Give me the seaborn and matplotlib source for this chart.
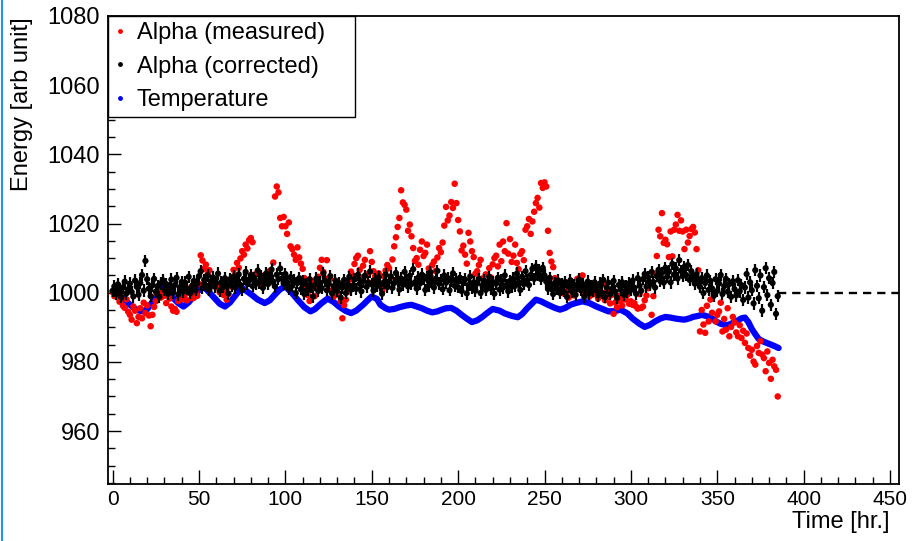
import numpy as np
import pandas as pd
import matplotlib
matplotlib.use("Agg")
import matplotlib.pyplot as plt
from matplotlib.lines import Line2D
from matplotlib.ticker import MultipleLocator
import seaborn as sns

# Alpha peak position after temperature correction, one reading per hour
alpha_corrected = [
    1000.5, 1001.8, 999.6, 1002.4, 1000.9, 998.7, 1001.5, 1003.2, 999.8, 1001.0,
    1002.6, 1000.2, 998.9, 1003.5, 1001.7, 999.4, 1002.8, 1005.1, 1000.6, 1009.2,
    1003.9, 1001.2, 999.0, 1002.1, 1004.0, 1000.3, 1001.9, 998.8, 1002.7, 1003.6,
    1000.8, 1002.5, 999.7, 1001.4, 1003.8, 1000.1, 1002.2, 1004.3, 999.5, 1001.6,
    1003.1, 1000.4, 1002.9, 1001.1, 1004.6, 999.9, 1002.0, 1003.4, 1000.7, 1002.6,
    1004.8, 1006.2, 1001.3, 1003.7, 1002.1, 1005.0, 1000.9, 1003.3, 1004.4, 1001.8,
    1002.9, 1005.5, 1000.6, 1003.0, 1001.7, 1004.2, 1002.4, 999.8, 1003.9, 1002.0,
    1004.7, 1001.5, 1003.6, 1005.3, 1002.2, 1000.8, 1004.0, 1006.0, 1002.7, 1003.5,
    1005.1, 1001.9, 1004.3, 1002.6, 1006.4, 1003.0, 1004.9, 1001.4, 1003.8, 1005.6,
    1002.5, 1004.6, 1006.7, 1003.2, 1001.8, 1005.2, 1003.9, 1007.0, 1004.1, 1002.7,
    1005.4, 1003.1, 1001.2, 1004.5, 1002.0, 1003.7, 999.9, 1002.8, 1004.2, 1001.0,
    1003.3, 999.6, 1002.5, 1000.8, 1003.9, 1001.6, 998.9, 1002.2, 1004.1, 1000.5,
    1002.9, 1001.3, 1005.6, 1003.4, 1000.7, 1002.6, 1004.8, 999.8, 1001.9, 1003.5,
    1000.6, 1002.8, 998.6, 1001.5, 1003.7, 999.9, 1002.3, 1004.6, 1000.9, 1002.0,
    1003.8, 1001.1, 1005.2, 1002.6, 1000.4, 1003.3, 1004.9, 1001.7, 1002.9, 1006.1,
    1002.4, 1000.6, 1003.8, 1001.9, 1004.5, 1002.2, 999.7, 1003.0, 1005.3, 1001.6,
    1003.2, 1004.7, 1001.4, 1002.8, 1005.7, 1003.5, 1000.9, 1004.1, 1002.3, 1006.0,
    1003.6, 1001.8, 1004.9, 1002.5, 1006.8, 1003.0, 1001.2, 1004.4, 1002.7, 1005.2,
    1003.9, 1000.8, 1004.6, 1002.1, 1005.9, 1003.3, 1001.5, 1004.0, 1006.3, 1002.6,
    1003.7, 1001.0, 1005.0, 1002.9, 1004.2, 1000.7, 1003.4, 1005.6, 1002.0, 1003.8,
    1001.6, 1004.3, 1000.5, 1002.9, 1003.8, 999.8, 1002.2, 1004.7, 1001.3, 1003.0,
    1000.6, 1002.7, 1004.0, 999.9, 1002.1, 1003.5, 1000.8, 1002.4, 1004.6, 1001.2,
    1003.1, 999.7, 1002.6, 1004.3, 1000.9, 1003.6, 1001.5, 1005.0, 1002.3, 1000.4,
    1003.4, 1001.7, 1004.1, 1002.0, 1005.5, 1003.0, 1000.8, 1004.6, 1002.5, 1006.2,
    1003.7, 1002.2, 1005.1, 1006.9, 1004.0, 1007.6, 1005.3, 1006.4, 1003.9, 1007.2,
    1005.0, 1003.2, 1001.1, 1004.3, 1002.0, 999.6, 1002.8, 1001.0, 1003.5, 999.9,
    1002.4, 1000.5, 1003.1, 998.8, 1001.7, 1003.6, 1000.2, 1002.3, 999.4, 1001.9,
    1003.8, 1000.7, 1002.5, 998.9, 1001.4, 1003.2, 999.8, 1002.0, 1000.6, 1003.0,
    1001.3, 999.2, 1002.6, 1000.1, 1003.7, 998.7, 1001.5, 1002.9, 999.6, 1001.1,
    1003.4, 1000.3, 998.5, 1002.2, 1000.9, 1003.0, 999.4, 1001.8, 1000.2, 1002.7,
    1000.8, 1003.5, 1001.4, 999.7, 1004.2, 1002.0, 1000.6, 1003.9, 1005.4, 1001.8,
    1004.5, 1002.3, 1006.0, 1003.1, 1001.5, 1004.8, 1006.6, 1003.4, 1005.7, 1002.9,
    1007.2, 1004.6, 1006.1, 1003.0, 1008.3, 1005.2, 1007.0, 1004.1, 1009.4, 1006.3,
    1004.8, 1007.5, 1005.1, 1008.0, 1003.7, 1006.2, 1004.4, 1002.6, 1005.3, 1003.1,
    1001.7, 1004.2, 999.9, 1002.8, 1005.0, 1000.8, 1003.4, 1001.2, 999.1, 1003.9,
    1000.5, 1002.7, 1005.1, 999.6, 1001.9, 1004.0, 1000.3, 1002.5, 998.8, 1003.3,
    1001.0, 999.2, 1003.6, 1000.4, 1002.2, 997.9, 1001.5, 1005.4, 998.6, 1003.0,
    1000.7, 996.9, 1006.5, 1002.0, 998.4, 1005.0, 994.8, 1001.6, 1007.1, 999.3,
    1004.2, 996.5, 1002.8, 1006.0, 993.9, 999.0,
]

# Raw alpha peak position, same hourly readings
alpha_measured = [
    1000.2, 999.0, 1001.3, 998.6, 997.4, 999.8, 996.2, 995.6, 998.1, 994.5,
    993.6, 992.2, 996.0, 994.8, 991.2, 993.0, 995.5, 992.6, 997.1, 994.1,
    996.3, 993.4, 990.3, 993.6, 995.9, 997.5, 999.4, 1001.0, 998.6, 1000.2,
    999.1, 997.0, 1000.4, 998.3, 996.0, 994.8, 995.3, 994.5, 997.6, 999.0,
    1000.6, 998.2, 999.5, 997.8, 1001.2, 999.9, 998.4, 998.5, 1000.3, 999.1,
    1002.5, 1010.8, 1009.3, 1006.9, 1008.1, 1005.4, 1006.5, 1003.2, 1002.1, 1004.0,
    1001.6, 1002.3, 1000.1, 1001.2, 999.4, 1000.5, 998.0, 999.6, 1001.8, 1003.5,
    1006.6, 1005.0, 1008.6, 1007.2, 1009.9, 1012.0, 1011.0, 1013.9, 1012.8, 1015.2,
    1015.8, 1014.6, 1005.2, 1003.4, 1006.0, 1002.8, 1004.5, 1001.9, 1005.1, 1003.6,
    1004.8, 1006.3, 1003.0, 1008.7, 1027.8, 1030.7, 1029.0, 1021.6, 1019.2, 1021.9,
    1019.2, 1017.0, 1020.3, 1013.4, 1012.6, 1011.0, 1009.5, 1013.1, 1010.2, 1008.4,
    1006.9, 1004.2, 1001.5, 999.3, 997.6, 1000.9, 1003.4, 999.0, 1002.1, 1004.6,
    1007.2, 1009.5, 1006.0, 1004.1, 1009.4, 1002.5, 1004.0, 1000.6, 998.9, 1001.2,
    999.6, 1001.8, 997.5, 992.6, 996.4, 998.0, 1000.2, 1003.7, 1006.1, 1005.0,
    1008.3, 1010.0, 1010.7, 1006.6, 1004.4, 1007.8, 1009.5, 1005.3, 1003.0, 1012.0,
    1008.9, 1006.2, 1004.7, 1003.1, 1005.6, 1002.0, 1000.5, 1004.8, 1006.4, 1008.0,
    1007.1, 1004.5, 1009.6, 1013.4, 1016.0, 1019.0, 1021.6, 1029.6, 1026.1, 1025.4,
    1024.0, 1017.9, 1019.7, 1016.3, 1012.9, 1009.2, 1010.0, 1008.1, 1012.4, 1014.8,
    1010.6, 1011.5, 1013.9, 1007.0, 1004.8, 1008.0, 1009.0, 1006.3, 1010.2, 1012.9,
    1011.7, 1014.5, 1019.4, 1024.8, 1020.9, 1022.3, 1026.2, 1024.5, 1031.5, 1025.9,
    1021.0, 1017.7, 1012.2, 1013.6, 1011.0, 1008.4, 1017.3, 1014.8, 1012.0, 1010.3,
    1005.5, 1006.2, 1008.0, 1009.5, 1004.1, 1002.6, 1005.3, 1003.0, 1007.1, 1004.4,
    1008.2, 1010.0, 1010.7, 1007.6, 1013.9, 1009.1, 1014.8, 1012.0, 1020.1, 1011.3,
    1015.5, 1008.9, 1010.7, 1013.9, 1008.6, 1006.8, 1011.2, 1012.0, 1009.4, 1018.2,
    1019.2, 1021.3, 1017.0, 1020.6, 1023.4, 1025.9, 1027.4, 1024.6, 1031.7, 1030.3,
    1031.9, 1030.7, 1017.9, 1011.5, 1009.0, 1007.4, 1004.2, 1002.0, 1000.6, 1003.1,
    1001.5, 999.8, 1002.9, 1000.4, 998.6, 1002.3, 1000.9, 999.2, 1001.6, 1004.0,
    1004.2, 1001.1, 1005.0, 999.7, 1000.5, 1002.7, 998.9, 1001.3, 999.5, 1002.0,
    1000.4, 998.3, 1001.7, 999.9, 1002.5, 997.8, 1000.2, 998.6, 996.9, 999.4,
    993.9, 997.2, 995.8, 999.0, 997.5, 996.3, 998.4, 998.0, 999.4, 996.8,
    997.5, 996.5, 997.0, 996.0, 995.4, 999.6, 995.6, 996.0, 997.8, 999.2,
    1001.3, 1002.8, 993.6, 999.0, 1005.5, 1010.6, 1018.2, 1016.3, 1023.0, 1014.4,
    1015.3, 1014.0, 1010.3, 1017.7, 1010.5, 1018.2, 1019.7, 1022.5, 1017.9, 1020.9,
    1017.7, 1012.6, 1018.2, 1014.5, 1016.4, 1018.4, 1019.0, 1017.4, 1012.6, 1006.5,
    988.8, 995.0, 990.8, 988.4, 996.2, 991.7, 998.0, 994.2, 999.6, 991.7,
    993.6, 994.6, 997.1, 988.8, 992.4, 989.3, 995.5, 987.4, 990.1, 993.0,
    991.4, 988.5, 987.4, 990.6, 986.9, 989.0, 985.5, 988.2, 984.0, 981.8,
    983.5, 980.1, 979.2, 984.6, 982.6, 986.0, 982.1, 981.1, 977.3, 983.0,
    979.7, 975.1, 980.6, 978.7, 977.7, 970.0,
]

alpha_err = 1.8

# Temperature trace, expressed on the energy scale
temp_hours = [
    0, 5, 10, 14, 17, 20, 24, 28, 31, 34, 38, 41, 44, 47, 50, 52.5,
    55, 58, 62, 65, 68, 72, 75, 78, 80.5, 84, 88, 91, 94, 97, 100,
    104, 107, 111, 114.5, 117, 121, 124.5, 128, 131, 135, 138, 141, 145, 148,
    150, 153, 155, 158, 160, 163, 166, 170, 173, 176, 179, 182, 185, 188, 190,
    193, 196, 199, 202, 205, 208, 211, 214, 217, 220, 224, 227, 231, 234.5, 237,
    240, 243, 245, 248, 252, 256, 259, 262, 265, 268, 272, 276, 280, 284, 287,
    291, 294, 298, 301, 305, 308, 311, 314, 317, 320, 323, 326, 329, 331, 334,
    336, 339, 341, 344, 347, 350, 352, 355, 357, 360, 362, 364, 366, 368, 370,
    372, 374, 377, 380, 383, 385.5,
]
temp_energy = [
    1000.5, 999.0, 996.5, 995.0, 994.6, 995.2, 998.0, 1001.4, 1000.4, 999.0, 997.0, 996.0, 997.2, 999.0, 1000.8, 1001.8,
    1000.6, 999.0, 996.8, 996.0, 997.2, 999.8, 1001.4, 1000.3, 999.4, 998.0, 997.0, 997.8, 999.5, 1001.0, 1001.8,
    999.8, 998.0, 995.8, 994.6, 995.2, 997.0, 998.3, 997.3, 996.0, 994.7, 994.1, 994.8, 996.5, 998.0,
    998.9, 998.2, 996.5, 995.5, 995.1, 995.3, 995.8, 996.3, 996.5, 996.0, 995.5, 994.8, 994.3, 994.6, 995.0,
    995.5, 995.6, 994.8, 993.6, 992.5, 991.5, 992.0, 993.0, 994.2, 995.3, 994.8, 994.0, 993.3, 992.9, 993.8,
    995.5, 997.0, 998.0, 997.5, 996.5, 995.6, 995.1, 995.6, 996.5, 997.0, 997.5, 997.0, 996.0, 995.2, 994.6,
    994.7, 995.1, 994.0, 992.5, 991.0, 990.1, 990.7, 991.7, 992.5, 993.0, 992.8, 992.5, 992.3, 992.2, 992.6,
    993.0, 993.3, 993.6, 993.2, 992.5, 991.5, 991.0, 990.6, 990.8, 991.5, 992.0, 992.6, 992.8, 991.5, 989.5,
    988.0, 986.6, 985.8, 985.2, 984.6, 984.0,
]

legend_labels = ["Alpha (measured)", "Alpha (corrected)", "Temperature"]
series_colors = ["#ff0000", "#000000", "#0000ff"]
reference_level = 1000.0

hours = np.arange(len(alpha_corrected))  # hourly readings
alpha_df = pd.DataFrame({"hours": hours,
                         "measured": alpha_measured,
                         "corrected": alpha_corrected})
temp_df = pd.DataFrame({"hours": temp_hours, "energy": temp_energy})

sns.set_style("ticks")
plt.rcParams["font.family"] = ["Liberation Sans", "DejaVu Sans"]
for key in ["text.color", "axes.labelcolor", "xtick.color", "ytick.color"]:
    plt.rcParams[key] = "black"

fig = plt.figure(figsize=(9.14, 5.41), dpi=100)
ax = fig.add_axes([0.1185, 0.1054, 0.8651, 0.8651])

x_min, x_max = -2.5, 455.2
y_min, y_max = 944.7, 1080

# temperature as a thick blue band
sns.lineplot(data=temp_df, x="hours", y="energy", color=series_colors[2],
             linewidth=4.5, ax=ax, zorder=2, sort=False,
             solid_joinstyle="round", solid_capstyle="round")
# measured alpha peaks
sns.scatterplot(data=alpha_df, x="hours", y="measured", color=series_colors[0],
                s=22, edgecolor="none", linewidth=0, ax=ax, zorder=3)
# corrected alpha peaks with error bars
ax.errorbar(alpha_df["hours"], alpha_df["corrected"], yerr=alpha_err,
            fmt="none", ecolor=series_colors[1], elinewidth=1.6, zorder=4)
sns.scatterplot(data=alpha_df, x="hours", y="corrected", color=series_colors[1],
                s=20, edgecolor="none", linewidth=0, ax=ax, zorder=5)
# nominal level beyond the end of the run
ax.plot([hours[-1], x_max], [reference_level, reference_level],
        color="black", linewidth=1.7, linestyle=(0, (3.5, 2.5)), zorder=1)

ax.set_xlim(x_min, x_max)
ax.set_ylim(y_min, y_max)
ax.set_xlabel("")
ax.set_ylabel("")

ax.xaxis.set_major_locator(MultipleLocator(50))
ax.xaxis.set_minor_locator(MultipleLocator(10))
ax.yaxis.set_major_locator(MultipleLocator(20))
ax.yaxis.set_minor_locator(MultipleLocator(5))

ax.tick_params(axis="both", which="both", direction="in", top=False, right=False,
               color="black", width=1.0, labelcolor="black")
ax.tick_params(axis="x", which="major", length=10, labelsize=15, pad=4)
ax.tick_params(axis="x", which="minor", length=5)
ax.tick_params(axis="y", which="major", length=9, labelsize=17, pad=6)
ax.tick_params(axis="y", which="minor", length=5)

for side in ["left", "bottom", "top", "right"]:
    ax.spines[side].set_visible(True)
    ax.spines[side].set_color("black")
    ax.spines[side].set_linewidth(1.3)

fig.text(22 / 914, 1 - 17 / 541, "Energy [arb unit]", rotation=90,
         ha="center", va="top", fontsize=17, color="black")
fig.text(890 / 914, 1 - 522 / 541, "Time [hr.]", ha="right", va="center",
         fontsize=17, color="black")

handles = [Line2D([], [], marker="o", linestyle="none", color=c,
                  markersize=3.5, markeredgewidth=0) for c in series_colors]
leg = ax.legend(handles, legend_labels, loc="upper left",
                bbox_to_anchor=(0.0, 0.0, 0.312, 1.0), mode="expand",
                borderaxespad=0.0, fontsize=17, frameon=True, fancybox=False,
                handlelength=0.5, handletextpad=0.45, borderpad=0.25,
                labelspacing=0.5)
leg.get_frame().set_edgecolor("black")
leg.get_frame().set_linewidth(1.0)
leg.get_frame().set_alpha(1.0)
for txt in leg.get_texts():
    txt.set_color("black")
leg.set_zorder(10)

# thin blue frame along the left edge of the canvas
fig.add_artist(Line2D([2 / 914, 2 / 914], [0, 1], transform=fig.transFigure,
                      color="#1e96f0", linewidth=1.5))

fig.savefig("out.png", dpi=100)
